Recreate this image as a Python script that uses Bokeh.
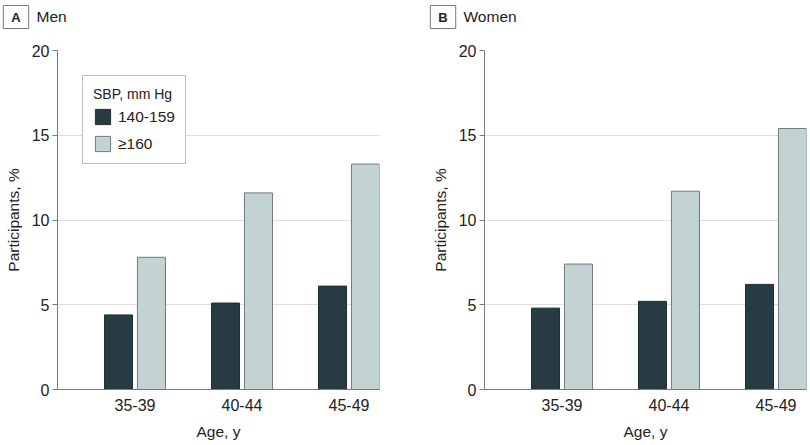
from bokeh.plotting import figure
from bokeh.models import (ColumnDataSource, Range1d, FixedTicker, Legend, LegendItem, Label)
from bokeh.transform import dodge
from bokeh.layouts import row, column
from bokeh.embed import file_html
from bokeh.resources import INLINE

# ---- data ----
ages = ["35-39", "40-44", "45-49"]
groups = ["140-159", "≥160"]
men_140_159 = [4.4, 5.1, 6.1]
men_160 = [7.8, 11.6, 13.3]
women_140_159 = [4.8, 5.2, 6.2]
women_160 = [7.4, 11.7, 15.4]
y_ticks = [0, 5, 10, 15, 20]

FONT = "Liberation Sans"
DARK = "#263c42"
DARK_LINE = "#1e2f33"
LIGHT = "#c3d3d3"
LIGHT_LINE = "#6e7c7c"
TEXT = "#222222"
HEADER_H = 40


def make_header(letter, title, width, box_cx, title_x):
    h = figure(width=width, height=HEADER_H, min_border=0,
               x_range=Range1d(0, width), y_range=Range1d(HEADER_H, 0),
               x_axis_location=None, y_axis_location=None,
               output_backend="svg", toolbar_location=None)
    h.outline_line_color = None
    h.grid.grid_line_color = None
    h.add_layout(Label(x=box_cx, y=16.5, text=letter,
                       text_font=FONT, text_font_size="13px", text_font_style="bold",
                       text_color=TEXT, text_align="center", text_baseline="middle",
                       border_line_color="#7a7a7a", border_line_width=1,
                       background_fill_color="white", padding=(8, 4)))
    h.add_layout(Label(x=title_x, y=16, text=title, text_font=FONT,
                       text_font_size="15.5px", text_color=TEXT,
                       text_align="left", text_baseline="middle"))
    return h


def make_panel(v1, v2, border_left, border_right, with_legend):
    p = figure(frame_width=322, frame_height=339,
               min_border_left=border_left, min_border_right=border_right,
               min_border_top=50 - HEADER_H, min_border_bottom=55,
               x_range=Range1d(0.276, 3.285), y_range=Range1d(0, 20),
               output_backend="svg", toolbar_location=None)
    p.outline_line_color = None
    pos = list(range(1, len(ages) + 1))
    src = ColumnDataSource(dict(x=pos, a=v1, b=v2))
    r1 = p.vbar(x=dodge("x", -0.154, range=p.x_range), top="a", width=0.262, source=src,
                fill_color=DARK, line_color=DARK_LINE, line_width=1)
    r2 = p.vbar(x=dodge("x", 0.154, range=p.x_range), top="b", width=0.262, source=src,
                fill_color=LIGHT, line_color=LIGHT_LINE, line_width=1)

    p.xaxis.ticker = FixedTicker(ticks=pos)
    p.xaxis.major_label_overrides = {i: a for i, a in zip(pos, ages)}
    p.xaxis.major_tick_out = 0
    p.xaxis.major_tick_in = 0
    p.xaxis.minor_tick_line_color = None
    p.xaxis.axis_line_color = "#7a7a7a"
    p.xaxis.major_label_standoff = 9
    p.xaxis.axis_label = "Age, y"
    p.xaxis.axis_label_standoff = 9

    p.yaxis.ticker = FixedTicker(ticks=y_ticks)
    p.yaxis.major_tick_out = 5
    p.yaxis.major_tick_in = 0
    p.yaxis.major_tick_line_color = "#7a7a7a"
    p.yaxis.minor_tick_line_color = None
    p.yaxis.axis_line_color = "#7a7a7a"
    p.yaxis.major_label_standoff = 3
    p.yaxis.axis_label = "Participants, %"
    p.yaxis.axis_label_standoff = 7

    for ax in (p.xaxis, p.yaxis):
        ax.major_label_text_font = FONT
        ax.major_label_text_font_size = "16px"
        ax.major_label_text_color = TEXT
        ax.axis_label_text_font = FONT
        ax.axis_label_text_font_size = "15.5px"
        ax.axis_label_text_font_style = "normal"
        ax.axis_label_text_color = TEXT

    p.xgrid.grid_line_color = None
    p.ygrid.grid_line_color = "#dedede"
    p.ygrid.grid_line_width = 1
    p.ygrid.ticker = FixedTicker(ticks=y_ticks[1:])

    if with_legend:
        leg = Legend(items=[LegendItem(label=groups[0], renderers=[r1]),
                            LegendItem(label=groups[1], renderers=[r2])],
                     location=(25, 225), title="SBP, mm Hg")
        leg.border_line_color = "#808080"
        leg.border_line_width = 1
        leg.background_fill_color = "white"
        leg.background_fill_alpha = 1
        leg.padding = 10
        leg.spacing = 8
        leg.margin = 0
        leg.glyph_width = 19
        leg.glyph_height = 19
        leg.label_height = 19
        leg.label_standoff = 6
        leg.title_standoff = 5
        leg.label_text_font = FONT
        leg.label_text_font_size = "15.5px"
        leg.label_text_color = TEXT
        leg.title_text_font = FONT
        leg.title_text_font_size = "14px"
        leg.title_text_font_style = "normal"
        leg.title_text_color = TEXT
        p.add_layout(leg, "center")
    return p


hA = make_header("A", "Men", 409, 15.5, 36)
hB = make_header("B", "Women", 401, 33.5, 54)
pA = make_panel(men_140_159, men_160, 57, 30, True)
pB = make_panel(women_140_159, women_160, 75, 4, False)

layout = column(row(hA, hB), row(pA, pB))
open("out.html", "w").write(file_html(layout, INLINE))
